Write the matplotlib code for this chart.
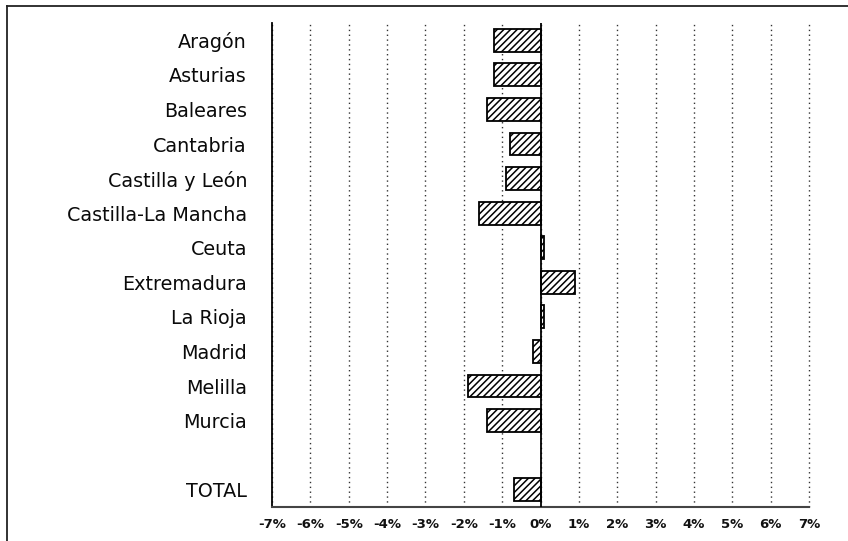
import matplotlib
matplotlib.use("Agg")
import matplotlib.pyplot as plt
from matplotlib.lines import Line2D

categories = ["Aragón", "Asturias", "Baleares", "Cantabria", "Castilla y León",
              "Castilla-La Mancha", "Ceuta", "Extremadura", "La Rioja", "Madrid",
              "Melilla", "Murcia", "TOTAL"]
values = [-1.2, -1.2, -1.4, -0.8, -0.9, -1.6, 0.1, 0.9, 0.1, -0.2, -1.9, -1.4, -0.7]
x_ticks = list(range(-7, 8))
x_labels = [f"{t}%" for t in x_ticks]

# TOTAL separated from the regions by an empty slot
positions = list(range(len(categories) - 1)) + [len(categories)]

plt.rcParams["font.family"] = ["DejaVu Sans"]
plt.rcParams["hatch.linewidth"] = 1.1

fig = plt.figure(figsize=(8.48, 5.41), dpi=100)
ax = fig.add_axes([272 / 848, 1 - 507 / 541, (809 - 272) / 848, (507 - 23) / 541])

ax.barh(positions, values, height=0.66, color="white", edgecolor="black",
        hatch="/////", linewidth=1.3, zorder=3)

ax.set_xlim(-7, 7)
ax.set_ylim(len(categories) + 0.5, -0.5)

ax.set_yticks(positions)
ax.set_yticklabels(categories, fontsize=13.8, color="#0a0a0a")
ax.set_xticks(x_ticks)
ax.set_xticklabels(x_labels, fontsize=9.5, fontweight="bold", color="#111111")
ax.tick_params(axis="both", length=0)
ax.tick_params(axis="y", pad=18)
ax.tick_params(axis="x", pad=8)

ax.grid(axis="x", linestyle=(0, (1, 2.5)), color="#333333", linewidth=1.0, zorder=1)
for gl in ax.get_xgridlines():
    gl.set_clip_on(False)
ax.axvline(0, color="black", linewidth=1.3, zorder=4)

for side in ["top", "right"]:
    ax.spines[side].set_visible(False)
ax.spines["left"].set_color("black")
ax.spines["left"].set_linewidth(1.3)
ax.spines["bottom"].set_color("#444444")
ax.spines["bottom"].set_linewidth(1.5)

# outer frame of the original page (top and left edges)
fig.add_artist(Line2D([7 / 848, 1.0], [1 - 6 / 541, 1 - 6 / 541],
                      transform=fig.transFigure, color="#222222", linewidth=1.3))
fig.add_artist(Line2D([7 / 848, 7 / 848], [1 - 6 / 541, 0.0],
                      transform=fig.transFigure, color="#222222", linewidth=1.3))

fig.savefig("out.png", dpi=100)
